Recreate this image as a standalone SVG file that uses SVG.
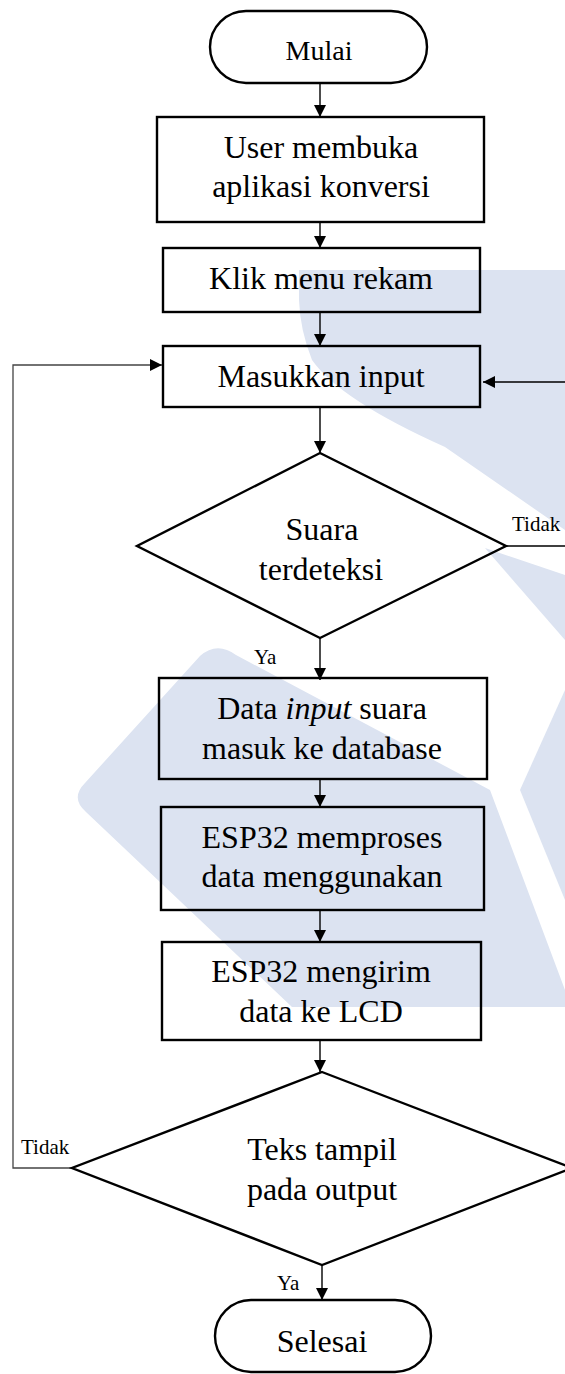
<svg xmlns="http://www.w3.org/2000/svg" width="565" height="1374" viewBox="0 0 565 1374">
<defs>
<style>
.bg{fill:#fff}
.wm{fill:#dce3f1;stroke:none}
.box{fill:none;stroke:#000;stroke-width:2.4}
.ln{fill:none;stroke:#000;stroke-width:1.4}
.lg{fill:none;stroke:#444;stroke-width:1.3}
.t{font-family:"Liberation Serif","Times New Roman",serif;font-size:32px;fill:#000;text-anchor:middle}
.s{font-family:"Liberation Serif","Times New Roman",serif;font-size:21px;fill:#000}
</style>
<marker id="ah" viewBox="0 0 12 12" refX="12" refY="6" markerWidth="12" markerHeight="12" markerUnits="userSpaceOnUse" orient="auto">
<path d="M0,0 L12,6 L0,12 Z" fill="#000"/>
</marker>
</defs>
<rect class="bg" x="0" y="0" width="565" height="1374"/>
<g id="watermark">
<path class="wm" d="M299,270 H565 V530 L445,447 Q340,400 312,360 Q300,330 299,300 Z"/>
<path class="wm" d="M485,548 L565,575 V640 Z"/>
<path class="wm" d="M565,690 L520,790 L565,900 Z"/>
<path class="wm" d="M200,656 Q217,641 236,655 L490,790 L565,990 V1007 H292 L86,812 Q70,798 85,783 Z"/>
</g>
<g id="connectors">
<line class="ln" x1="320" y1="83" x2="320" y2="117" marker-end="url(#ah)"/>
<line class="ln" x1="320" y1="222" x2="320" y2="248" marker-end="url(#ah)"/>
<line class="ln" x1="320" y1="312" x2="320" y2="346" marker-end="url(#ah)"/>
<line class="ln" x1="320" y1="407" x2="320" y2="453" marker-end="url(#ah)"/>
<line class="ln" x1="320" y1="638" x2="320" y2="680" marker-end="url(#ah)"/>
<line class="ln" x1="320" y1="779" x2="320" y2="807" marker-end="url(#ah)"/>
<line class="ln" x1="320" y1="910" x2="320" y2="942" marker-end="url(#ah)"/>
<line class="ln" x1="320" y1="1040" x2="320" y2="1072" marker-end="url(#ah)"/>
<line class="ln" x1="322" y1="1265" x2="322" y2="1300" marker-end="url(#ah)"/>
<polyline class="ln" points="506,546 567,546 567,382 483,382" marker-end="url(#ah)"/>
<polyline class="lg" points="72,1168 13,1168 13,365 162,365" marker-end="url(#ah)"/>
<text class="s" x="512" y="531">Tidak</text>
<text class="s" x="254" y="664">Ya</text>
<text class="s" x="21" y="1154">Tidak</text>
<text class="s" x="277" y="1290">Ya</text>
</g>
<g id="mulai">
<rect class="box" x="210" y="11" width="217" height="72" rx="36" ry="36"/>
<text class="t" x="319" y="60" style="font-size:28px">Mulai</text>
</g>
<g id="user">
<rect class="box" x="157" y="117" width="327" height="105"/>
<text class="t" x="321" y="158">User membuka</text>
<text class="t" x="321" y="197">aplikasi konversi</text>
</g>
<g id="klik">
<rect class="box" x="163" y="248" width="317" height="64"/>
<text class="t" x="321" y="289">Klik menu rekam</text>
</g>
<g id="masukkan">
<rect class="box" x="163" y="346" width="317" height="61"/>
<text class="t" x="321" y="387">Masukkan input</text>
</g>
<g id="suara">
<polygon class="box" points="320,453 506,546 320,638 137,546"/>
<text class="t" x="322" y="540">Suara</text>
<text class="t" x="321" y="580">terdeteksi</text>
</g>
<g id="data">
<rect class="box" x="159" y="678" width="328" height="101"/>
<text class="t" x="322" y="719">Data <tspan font-style="italic">input</tspan> suara</text>
<text class="t" x="322" y="759">masuk ke database</text>
</g>
<g id="proses">
<rect class="box" x="161" y="807" width="323" height="103"/>
<text class="t" x="322" y="848">ESP32 memproses</text>
<text class="t" x="322" y="887">data menggunakan</text>
</g>
<g id="kirim">
<rect class="box" x="162" y="942" width="319" height="98"/>
<text class="t" x="321" y="982">ESP32 mengirim</text>
<text class="t" x="321" y="1022">data ke LCD</text>
</g>
<g id="teks">
<polygon class="box" points="322,1072 572,1168 322,1265 72,1168"/>
<text class="t" x="322" y="1160">Teks tampil</text>
<text class="t" x="322" y="1200">pada output</text>
</g>
<g id="selesai">
<rect class="box" x="215" y="1300" width="216" height="72" rx="36" ry="36"/>
<text class="t" x="322" y="1352">Selesai</text>
</g>
</svg>
